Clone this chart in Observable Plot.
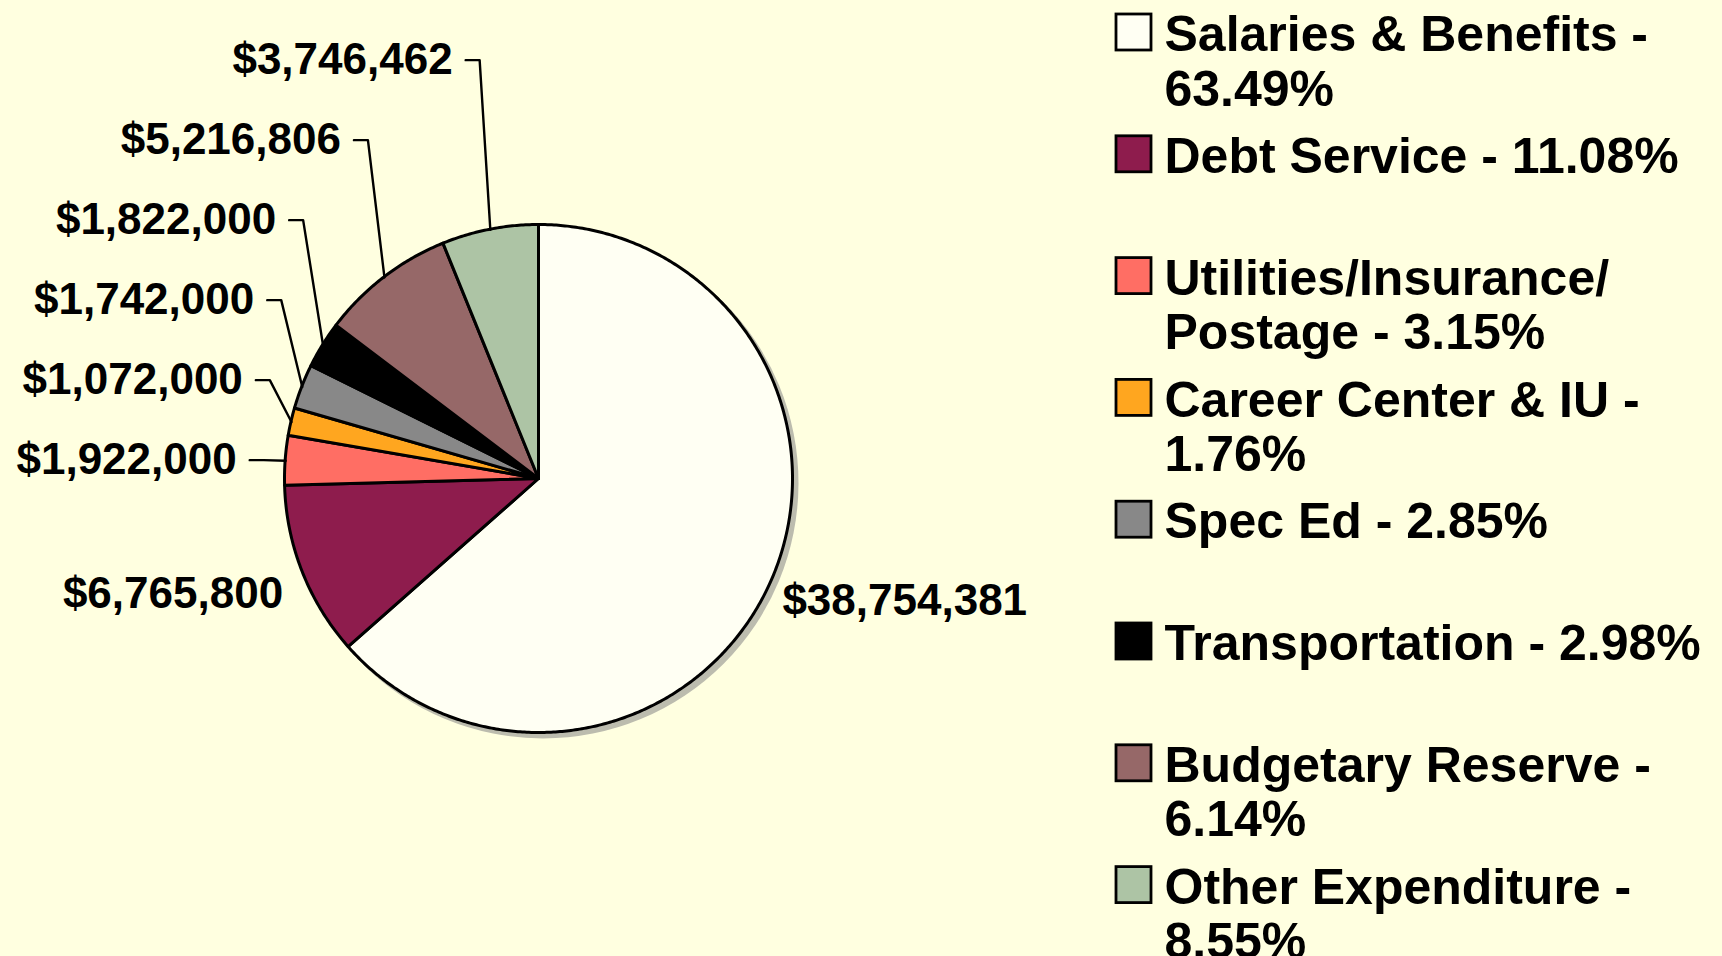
<!DOCTYPE html>
<html>
<head>
<meta charset="utf-8">
<script src="https://cdn.jsdelivr.net/npm/d3@7"></script>
<script src="https://cdn.jsdelivr.net/npm/@observablehq/plot@0.6"></script>
<style>
  html, body { margin: 0; padding: 0; background: #FFFFE0; }
  #chart svg { display: block; }
</style>
</head>
<body>
<div id="chart"></div>
<script>
// ---- data ----
const categories = [
  "Salaries & Benefits", "Debt Service", "Utilities/Insurance/Postage",
  "Career Center & IU", "Spec Ed", "Transportation",
  "Budgetary Reserve", "Other Expenditure"
];
const amounts = [38754381, 6765800, 1922000, 1072000, 1742000, 1822000, 5216806, 3746462];
const legendLabels = [
  "Salaries & Benefits -\n63.49%",
  "Debt Service - 11.08%",
  "Utilities/Insurance/\nPostage - 3.15%",
  "Career Center & IU -\n1.76%",
  "Spec Ed - 2.85%",
  "Transportation - 2.98%",
  "Budgetary Reserve -\n6.14%",
  "Other Expenditure -\n8.55%"
];

// ---- styling / layout ----
const palette = ["#FFFFF3", "#8E1C4D", "#FF6E64", "#FFA61F", "#888888", "#000000", "#966868", "#ADC4A5"];
const W = 1722, H = 956;
const cx = 538.5, cy = 478.5, R = 254;
const fmt = v => "$" + d3.format(",")(v);

const total = d3.sum(amounts);
const pieGen = d3.pie().sort(null).value(d => d)(amounts);
const arcs = pieGen.map((p, i) => ({
  name: categories[i], value: amounts[i],
  a0: p.startAngle, a1: p.endAngle,
  mid: (p.startAngle + p.endAngle) / 2,
  frac: amounts[i] / total
}));
const pt = (a, r) => [cx + r * Math.sin(a), cy - r * Math.cos(a)];

const slicePts = arcs.flatMap(s => {
  const n = Math.max(2, Math.ceil((s.a1 - s.a0) / (Math.PI / 360)));
  return d3.range(n + 1).map(k => {
    const a = s.a0 + (s.a1 - s.a0) * k / n;
    const [x, y] = pt(a, R);
    return {name: s.name, x, y};
  });
});

// labels
const LR = R + 22;
const BR = R + 17;
const small = arcs.filter(s => s.frac < 0.1);
const big = arcs.filter(s => s.frac >= 0.1);
const baseY = pt(small[0].mid, LR)[1] + 1;
const leaders = small.map((s, k) => {
  const [ex, ey] = pt(s.mid, R);
  const ly = baseY - 80 * k;
  const bx = ex - 8 - 14 * Math.abs(Math.sin(s.mid));
  return {name: s.name, value: s.value, ex, ey, ly, bx};
});
const leaderPts = leaders.flatMap(l => [
  {id: l.name, x: l.ex, y: l.ey},
  {id: l.name, x: l.bx, y: l.ly},
  {id: l.name, x: l.bx - 14, y: l.ly}
]);
const endLabels = [
  ...leaders.map(l => ({text: fmt(l.value), x: l.bx - 27, y: l.ly})),
  ...big.filter(s => Math.sin(s.mid) < 0).map(s => { const [x, y] = pt(s.mid, BR + 4); return {text: fmt(s.value), x, y: y + 14}; })
];
const startLabels = big.filter(s => Math.sin(s.mid) >= 0).map(s => { const [x, y] = pt(s.mid, BR - 4); return {text: fmt(s.value), x, y: y + 12}; });

// legend
const legendRows = categories.map((c, i) => ({name: c, label: legendLabels[i], top: 14 + 121.8 * i}));

const chart = Plot.plot({
  width: W, height: H, margin: 0,
  x: {domain: [0, W], range: [0, W], axis: null},
  y: {domain: [0, H], range: [0, H], axis: null},
  color: {type: "ordinal", domain: categories, range: palette},
  style: {background: "#FFFFE0", fontFamily: "'Liberation Sans', Arial, sans-serif", overflow: "visible"},
  marks: [
    Plot.dot([0], {x: () => cx, y: () => cy, r: R + 1.5, fill: "#BCBCAE", dx: 4, dy: 4}),
    Plot.area(slicePts, {x1: "x", y1: "y", x2: () => cx, y2: () => cy, z: "name", fill: "name",
      stroke: "#000", strokeWidth: 3, strokeLinejoin: "round"}),
    Plot.line(leaderPts, {x: "x", y: "y", z: "id", stroke: "#000", strokeWidth: 2.4}),
    Plot.text(endLabels, {x: "x", y: "y", text: "text", textAnchor: "end", fontSize: 44, fontWeight: "bold", fill: "#000"}),
    Plot.text(startLabels, {x: "x", y: "y", text: "text", textAnchor: "start", fontSize: 44, fontWeight: "bold", fill: "#000"}),
    Plot.rect(legendRows, {x1: () => 1116, x2: () => 1151, y1: "top", y2: d => d.top + 36, fill: "name", stroke: "#000", strokeWidth: 2.8}),
    Plot.text(legendRows, {x: () => 1164, y: d => d.top - 2, text: "label", textAnchor: "start", lineAnchor: "top",
      lineHeight: 1.09, fontSize: 50, fontWeight: "bold", fill: "#000"})
  ]
});
document.getElementById("chart").appendChild(chart);
</script>
</body>
</html>
